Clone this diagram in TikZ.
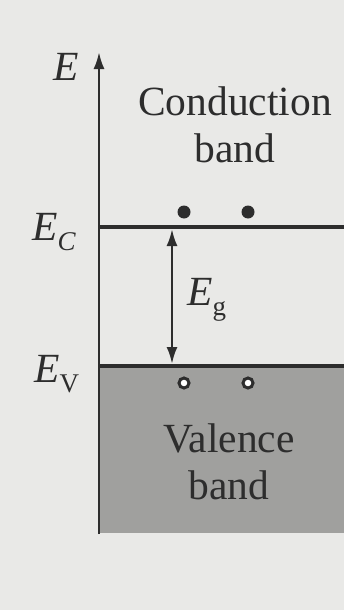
\documentclass[tikz,border=0pt]{standalone}
\usepackage{fontspec}
\setmainfont{Liberation Serif}
\usetikzlibrary{arrows.meta}
\definecolor{paper}{RGB}{233,233,231}
\definecolor{valgray}{RGB}{160,160,158}
\definecolor{ink}{RGB}{45,45,45}
\newcommand{\lowidx}[1]{\raisebox{-10pt}{\fontsize{27}{27}\selectfont #1}}

\begin{document}
\begin{tikzpicture}[x=1pt,y=-1pt,>={Latex[length=17pt,width=11pt]},
    lbl/.style={text=ink,inner sep=0pt,font=\fontsize{41.5}{47}\selectfont}]
  \fill[paper] (0,0) rectangle (344,610);
  \useasboundingbox (0,0) rectangle (344,610);
  \fill[valgray] (99,366) rectangle (344,533);
  \coordinate (base) at (99,534);
  \coordinate (top) at (99,52);
  \coordinate (ctop) at (172,229);
  \coordinate (vtop) at (172,364);
  \draw[ink,line width=2.5pt,->] (base) -- (top);
  \draw[ink,line width=4pt] (98,227) -- (344,227);
  \draw[ink,line width=4pt] (98,366) -- (344,366);
  \draw[ink,line width=2.5pt,<->] (ctop) -- (vtop);
  \foreach \x in {184,248} \fill[ink] (\x,212) circle (6.5);
  \foreach \x in {184,248} \draw[ink,fill=white,line width=3pt] (\x,383) circle (5);
  \node[lbl,anchor=base] (axislbl) at (66,80) {\textit{E}};
  \node[lbl,anchor=base west] (eclbl) at (32,240) {\textit{E}\lowidx{\textit{C}}};
  \node[lbl,anchor=base west] (evlbl) at (34,382) {\textit{E}\lowidx{V}};
  \node[lbl,anchor=base west] (eglbl) at (187,305) {\textit{E}\lowidx{g}};
  \node[lbl,align=center] (cband) at (235,125) {Conduction\\band};
  \node[lbl,align=center] (vband) at (229,462) {Valence\\band};
\end{tikzpicture}
\end{document}
